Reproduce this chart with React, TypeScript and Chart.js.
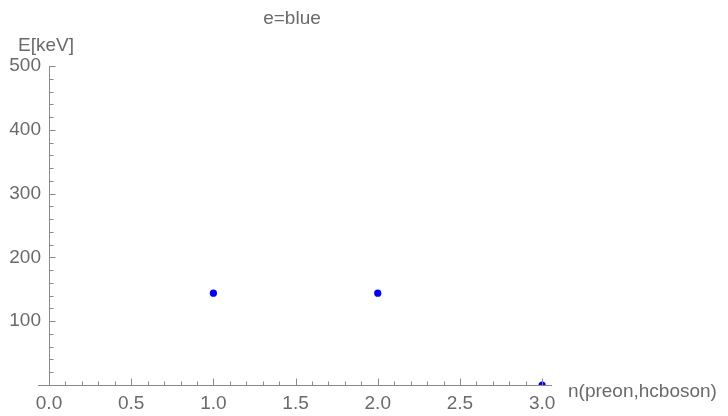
import { useEffect, useRef } from "react";
import { Chart, registerables } from "chart.js";

Chart.register(...registerables);

// ---- data ----
const titleText = "e=blue";
const xAxisLabel = "n(preon,hcboson)";
const yAxisLabel = "E[keV]";
const nValues = [1, 2, 3];
const energyValues = [144, 144, 0];
const xTickValues = [0, 0.5, 1, 1.5, 2, 2.5, 3];
const yTickValues = [100, 200, 300, 400, 500];
const xMinorStep = 0.1;
const yMinorStep = 20;
const xRange = [0, 3.06];
const yRange = [0, 500];
const xAxisLineStart = -0.065;

// ---- style ----
const FONT = '"Liberation Sans", Arial, sans-serif';
const TEXT = "#6a6a6a";
const AXIS = "#8a8a8a";
const POINT = "#0000ff";

const axesPlugin = {
  id: "mmaAxes",
  afterDraw(chart: any) {
    const { ctx, scales } = chart;
    const xs = scales.x;
    const ys = scales.y;
    const ax = Math.floor(xs.getPixelForValue(0)) + 0.5;
    const ay = Math.round(ys.getPixelForValue(0)) + 0.5;
    ctx.save();
    ctx.strokeStyle = AXIS;
    ctx.lineWidth = 1;
    ctx.beginPath();
    // x axis line
    ctx.moveTo(Math.round(xs.getPixelForValue(xAxisLineStart)), ay);
    ctx.lineTo(Math.round(xs.getPixelForValue(xRange[1])), ay);
    // y axis line
    ctx.moveTo(ax, ay);
    ctx.lineTo(ax, Math.round(ys.getPixelForValue(yRange[1])));
    // x ticks
    const nx = Math.round((xRange[1] - 0) / xMinorStep);
    for (let i = 1; i <= nx; i++) {
      const v = i * xMinorStep;
      if (v > xRange[1] + 1e-9) break;
      const major = xTickValues.some((t) => Math.abs(t - v) < 1e-6);
      const px = Math.round(xs.getPixelForValue(v)) + 0.5;
      ctx.moveTo(px, ay);
      ctx.lineTo(px, ay - (major ? 7 : 4));
    }
    // y ticks
    const ny = Math.round(yRange[1] / yMinorStep);
    for (let i = 1; i <= ny; i++) {
      const v = i * yMinorStep;
      const major = yTickValues.some((t) => Math.abs(t - v) < 1e-6);
      const py = Math.round(ys.getPixelForValue(v)) + 0.5;
      ctx.moveTo(ax, py);
      ctx.lineTo(ax + (major ? 6 : 4), py);
    }
    ctx.stroke();

    // texts
    ctx.fillStyle = TEXT;
    ctx.font = `19px ${FONT}`;
    ctx.textBaseline = "alphabetic";
    ctx.textAlign = "center";
    ctx.fillText(titleText, 292, 24);
    ctx.textAlign = "left";
    ctx.fillText(yAxisLabel, 18, 51);
    ctx.fillText(xAxisLabel, 568, 397);
    ctx.restore();
  },
};

export default function App() {
  const ref = useRef<HTMLCanvasElement | null>(null);
  useEffect(() => {
    if (!ref.current) return;
    const chart = new Chart(ref.current, {
      type: "scatter",
      data: {
        datasets: [
          {
            label: "e",
            data: nValues.map((n, i) => ({ x: n, y: energyValues[i] })),
            backgroundColor: POINT,
            borderColor: POINT,
            borderWidth: 0,
            pointRadius: 3.6,
            pointHoverRadius: 3.6,
          },
        ],
      },
      options: {
        responsive: false,
        animation: false,
        events: [],
        layout: { padding: { top: 66, right: 176, bottom: 0, left: 0 } },
        plugins: {
          legend: { display: false },
          title: { display: false },
          tooltip: { enabled: false },
        },
        scales: {
          x: {
            type: "linear",
            min: xRange[0],
            max: xRange[1],
            grid: { display: false, drawTicks: false },
            border: { display: false },
            afterBuildTicks: (s: any) => {
              s.ticks = xTickValues.map((v) => ({ value: v }));
            },
            afterFit: (s: any) => {
              s.height = 31;
            },
            ticks: {
              autoSkip: false,
              maxRotation: 0,
              padding: 7,
              color: TEXT,
              font: { family: FONT, size: 19 },
              callback: (v: any) => Number(v).toFixed(1),
            },
          },
          y: {
            type: "linear",
            min: yRange[0],
            max: yRange[1],
            grid: { display: false, drawTicks: false },
            border: { display: false },
            afterBuildTicks: (s: any) => {
              s.ticks = yTickValues.map((v) => ({ value: v }));
            },
            afterFit: (s: any) => {
              s.width = 49;
            },
            ticks: {
              autoSkip: false,
              padding: 8,
              color: TEXT,
              font: { family: FONT, size: 19 },
              callback: (v: any) => String(v),
            },
          },
        },
      },
      plugins: [axesPlugin],
    });
    return () => chart.destroy();
  }, []);
  return (
    <div style={{ position: "fixed", left: 0, top: 0, width: 728, height: 416, background: "#fff" }}>
      <canvas ref={ref} width={728} height={416} style={{ display: "block" }} />
    </div>
  );
}
